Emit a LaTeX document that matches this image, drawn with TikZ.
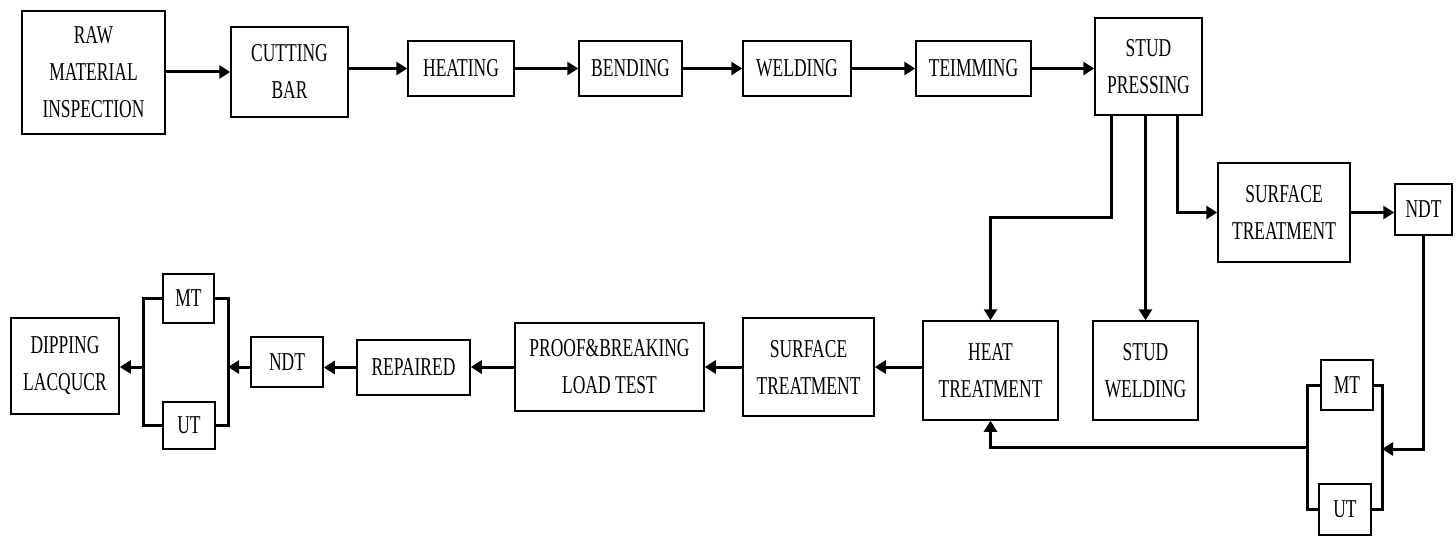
\documentclass[tikz,border=0pt]{standalone}
\usepackage{fontspec}
\setmainfont{Liberation Serif}[FakeStretch=0.68]
\usetikzlibrary{arrows.meta,calc}
\begin{document}
\begin{tikzpicture}[x=1pt,y=-1pt,
  box/.style={draw,line width=1.5pt,inner sep=0pt,align=center,font=\fontsize{25.7}{37}\selectfont},
  conn/.style={line width=3pt},
  arr/.style={conn,-{Triangle[length=11pt,width=13pt]}}]
\useasboundingbox (0,0) rectangle (1456,537);
% top row
\node[box,minimum width=143,minimum height=123] (raw) at (93.5,72.5) {RAW\\MATERIAL\\INSPECTION};
\node[box,minimum width=117,minimum height=90] (cut) at (289.5,72) {CUTTING\\BAR};
\node[box,minimum width=106,minimum height=55] (heat) at (461,68.5) {HEATING};
\node[box,minimum width=103,minimum height=55] (bend) at (630.5,68.5) {BENDING};
\node[box,minimum width=108,minimum height=55] (weld) at (797,68.5) {WELDING};
\node[box,minimum width=115,minimum height=55] (trim) at (973.5,68.5) {TEIMMING};
\node[box,minimum width=107,minimum height=97] (press) at (1148.5,66.5) {STUD\\PRESSING};
% right side
\node[box,minimum width=132,minimum height=99] (surf1) at (1284,212.5) {SURFACE\\TREATMENT};
\node[box,minimum width=57,minimum height=51] (ndt1) at (1423.5,209.5) {NDT};
\node[box,minimum width=52,minimum height=50] (mt1) at (1347,385) {MT};
\node[box,minimum width=52,minimum height=51] (ut1) at (1345,509.5) {UT};
% lower row
\node[box,minimum width=135,minimum height=99] (htr) at (990.5,370.5) {HEAT\\TREATMENT};
\node[box,minimum width=105,minimum height=99] (sw) at (1145.5,370.5) {STUD\\WELDING};
\node[box,minimum width=131,minimum height=98] (surf2) at (808.5,367) {SURFACE\\TREATMENT};
\node[box,minimum width=189,minimum height=88] (proof) at (609.5,367) {PROOF\&BREAKING\\LOAD TEST};
\node[box,minimum width=113,minimum height=55] (rep) at (413.5,367.5) {REPAIRED};
\node[box,minimum width=72,minimum height=50] (ndt2) at (287,362) {NDT};
\node[box,minimum width=51,minimum height=49] (mt2) at (188.5,298.5) {MT};
\node[box,minimum width=52,minimum height=47] (ut2) at (189,425.5) {UT};
\node[box,minimum width=108,minimum height=96] (dip) at (65,366) {DIPPING\\LACQUCR};
% bus coordinates
\coordinate (lb) at (143,367);
\coordinate (rb) at (228,367);
\coordinate (lb1) at (1307,447);
\coordinate (rb1) at (1382,449);
\coordinate (pl) at (1111,218);
\coordinate (pr) at (1177,212.5);
% top row arrows
\draw[arr] (raw.east |- cut.west) -- (cut.west);
\draw[arr] (cut.east |- heat.west) -- (heat.west);
\draw[arr] (heat.east) -- (bend.west |- heat.east);
\draw[arr] (bend.east) -- (weld.west |- bend.east);
\draw[arr] (weld.east) -- (trim.west |- weld.east);
\draw[arr] (trim.east) -- (press.west |- trim.east);
% stud pressing branches
\draw[arr] (press.south -| pl) -- (pl) -| (htr.north);
\draw[arr] (press.south -| sw.north) -- (sw.north);
\draw[arr] (press.south -| pr) |- (surf1.west);
\draw[arr] (surf1.east) -- (ndt1.west |- surf1.east);
% right MT/UT
\draw[arr] (ndt1.south) |- (rb1);
\draw[conn] (mt1.east) -| (rb1) |- (ut1.east);
\draw[conn] (mt1.west) -| (lb1) |- (ut1.west);
\draw[arr] (lb1) -| (htr.south);
% lower row arrows
\draw[arr] (htr.west |- surf2.east) -- (surf2.east);
\draw[arr] (surf2.west) -- (proof.east);
\draw[arr] (proof.west) -- (rep.east |- proof.west);
\draw[arr] (rep.west) -- (ndt2.east |- rep.west);
\draw[arr] (ndt2.west |- rb) -- (rb);
\draw[conn] (mt2.east) -| (rb) |- (ut2.east);
\draw[conn] (mt2.west) -| (lb) |- (ut2.west);
\draw[arr] (lb) -- (dip.east |- lb);
\end{tikzpicture}
\end{document}
